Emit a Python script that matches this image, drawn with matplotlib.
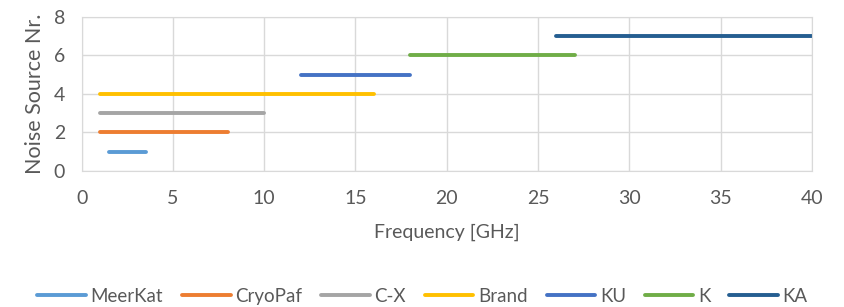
import matplotlib.pyplot as plt

# Frequency ranges of each noise source
names = ['MeerKat', 'CryoPaf', 'C-X', 'Brand', 'KU', 'K', 'KA']
f_start = [1.5, 1, 1, 1, 12, 18, 26]
f_stop = [3.5, 8, 10, 16, 18, 27, 40]
source_nr = [1, 2, 3, 4, 5, 6, 7]
colors = ['#5B9BD5', '#ED7D31', '#A5A5A5', '#FFC000', '#4472C4', '#70AD47', '#255E91']

plt.rcParams['font.family'] = ['Lato', 'DejaVu Sans']
txt = '#595959'
grid = '#D9D9D9'

fig = plt.figure(figsize=(8.45, 3.07), dpi=100)
ax = fig.add_axes([0.0967, 0.443, 0.864, 0.5026])

for name, a, b, y, c in zip(names, f_start, f_stop, source_nr, colors):
    ax.plot([a, b], [y, y], color=c, lw=2.8, solid_capstyle='round', label=name)

ax.set_xlim(0, 40)
ax.set_ylim(0, 8)
ax.set_xticks(range(0, 41, 5))
ax.set_yticks(range(0, 9, 2))
ax.grid(True, color=grid, lw=1)
ax.set_axisbelow(True)
for s in ax.spines.values():
    s.set_color(grid)
ax.tick_params(length=0, labelsize=14, labelcolor=txt)
ax.tick_params(axis='x', pad=14)
ax.tick_params(axis='y', pad=12)

ax.set_xlabel('Frequency [GHz]', fontsize=14, color=txt, labelpad=12)
ax.set_ylabel('Noise Source Nr.', fontsize=15.5, color=txt, labelpad=6)

ax.legend(loc='center', bbox_to_anchor=(0.5, 0.035), bbox_transform=fig.transFigure,
          ncol=7, frameon=False, fontsize=13.5, labelcolor=txt, handlelength=2.6,
          handletextpad=0.25, columnspacing=1.0)

fig.savefig('out.png', dpi=100)
